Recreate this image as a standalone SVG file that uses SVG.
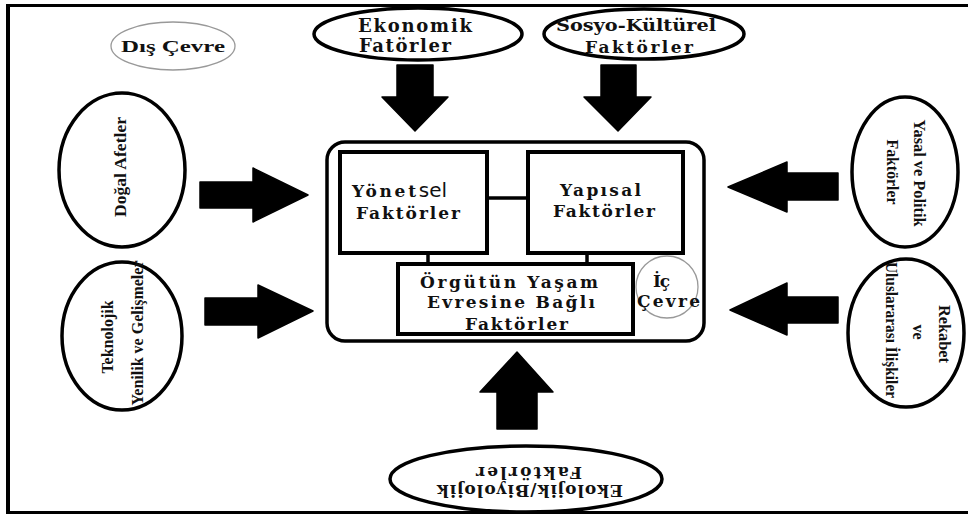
<svg xmlns="http://www.w3.org/2000/svg" width="968" height="514" viewBox="0 0 968 514">
<style>
.bg{fill:#fff}
.frame{stroke:#000;fill:none}
.el{fill:#fff;stroke:#000;stroke-width:3.5}
.thin{fill:#fff;stroke:#999;stroke-width:1.3}
.box{fill:#fff;stroke:#000;stroke-width:4}
.outer{fill:#fff;stroke:#000;stroke-width:3.5}
.ar{fill:#000;stroke:#000;stroke-width:1.5;stroke-linejoin:round}
.ln{stroke:#000;stroke-width:3.5}
text{font-family:"Liberation Serif","Times New Roman",serif;font-weight:bold;fill:#111}
.t17{font-size:17px}
.t16{font-size:16px}
.wide{font-family:"DejaVu Serif","Liberation Serif",serif;font-size:17px}
.big{font-size:18px}
.m{text-anchor:middle}
</style>
<rect class="bg" x="0" y="0" width="968" height="514"/>
<g id="frame">
<line class="frame" x1="6" y1="5.5" x2="968" y2="5.5" stroke-width="3"/>
<line class="frame" x1="8" y1="4" x2="8" y2="514" stroke-width="4"/>
<line class="frame" x1="6" y1="512.5" x2="968" y2="512.5" stroke-width="3"/>
</g>
<g id="connectors">
<polygon class="ar" points="397,65 433,65 433,97 448,97 415,131 382,97 397,97"/>
<polygon class="ar" points="601,65 636,65 636,97 651,97 618,131 584,97 601,97"/>
<polygon class="ar" points="200,182 253,182 253,168 308,195 253,222 253,208 200,208"/>
<polygon class="ar" points="205,298 258,298 258,285 313,311 258,338 258,325 205,325"/>
<polygon class="ar" points="838,173 787,173 787,162 728,187 787,212 787,200 838,200"/>
<polygon class="ar" points="838,297 787,297 787,283 730,310 787,335 787,323 838,323"/>
<polygon class="ar" points="497,429 537,429 537,392 553,392 517,352 480,392 497,392"/>
</g>
<g id="dis-cevre">
<ellipse class="thin" cx="173" cy="46" rx="62" ry="24"/>
<text class="t17 m" x="173" y="52" textLength="104" lengthAdjust="spacingAndGlyphs">Dış Çevre</text>
</g>
<g id="ekonomik">
<ellipse class="el" cx="418" cy="34" rx="104" ry="26"/>
<text class="wide big m" x="415" y="32" textLength="114" lengthAdjust="spacing">Ekonomik</text>
<text class="wide big m" x="405" y="52" textLength="92" lengthAdjust="spacing">Fatörler</text>
</g>
<g id="sosyo">
<ellipse class="el" cx="644" cy="34" rx="100" ry="25"/>
<text class="wide m" x="636" y="31" textLength="160" lengthAdjust="spacingAndGlyphs" style="font-size:16px">Sosyo-Kültürel</text>
<text class="wide m" x="639" y="53" textLength="108" lengthAdjust="spacing">Faktörler</text>
</g>
<g id="dogal">
<ellipse class="el" cx="122" cy="170" rx="63" ry="77"/>
<text class="t17 m" transform="translate(126,167) rotate(-90)" x="0" y="0" textLength="100" lengthAdjust="spacingAndGlyphs">Doğal Afetler</text>
</g>
<g id="teknolojik">
<ellipse class="el" cx="122" cy="336" rx="60" ry="74"/>
<text class="t16 m" transform="translate(113,337) rotate(-90)" x="0" y="0">Teknolojik</text>
<text class="t16 m" transform="translate(143,333) rotate(-90)" x="0" y="0" textLength="145" lengthAdjust="spacingAndGlyphs">Yenilik ve Gelişmeler</text>
</g>
<g id="yasal">
<ellipse class="el" cx="905" cy="172" rx="53" ry="75"/>
<text class="t16 m" transform="translate(914,173) rotate(90)" x="0" y="0" textLength="107" lengthAdjust="spacingAndGlyphs">Yasal ve Politik</text>
<text class="t16 m" transform="translate(887,172) rotate(90)" x="0" y="0" textLength="65" lengthAdjust="spacingAndGlyphs">Faktörler</text>
</g>
<g id="rekabet">
<ellipse class="el" cx="906" cy="333" rx="58" ry="74"/>
<text class="t16 m" transform="translate(939,334) rotate(90)" x="0" y="0" textLength="58" lengthAdjust="spacingAndGlyphs">Rekabet</text>
<text class="t16 m" transform="translate(913,332) rotate(90)" x="0" y="0">ve</text>
<text class="t16 m" transform="translate(886,330) rotate(90)" x="0" y="0" textLength="136" lengthAdjust="spacingAndGlyphs">Uluslararası İlişkiler</text>
</g>
<g id="ekolojik">
<ellipse class="el" cx="526" cy="479" rx="136" ry="33"/>
<text class="wide m" transform="translate(529,467) rotate(180)" x="0" y="0" textLength="106" lengthAdjust="spacing">Faktörler</text>
<text class="wide m" transform="translate(530,485) rotate(180)" x="0" y="0" textLength="186" lengthAdjust="spacing">Ekolojik/Biyolojik</text>
</g>
<g id="ic-cevre-box">
<rect class="outer" x="327" y="142" width="377" height="199" rx="18" ry="18"/>
</g>
<g id="inner-connectors">
<line class="ln" x1="487" y1="198" x2="528" y2="198"/>
<line class="ln" x1="428" y1="253" x2="428" y2="264"/>
<line class="ln" x1="587" y1="253" x2="587" y2="264"/>
</g>
<g id="yonetsel">
<rect class="box" x="340" y="152" width="147" height="101"/>
<text class="wide" x="352" y="197"><tspan textLength="64" lengthAdjust="spacing">Yönet</tspan><tspan style="font-family:'DejaVu Sans','Liberation Sans',sans-serif;font-weight:normal;font-size:20px">sel</tspan></text>
<text class="wide" x="356" y="219" textLength="104" lengthAdjust="spacing">Faktörler</text>
</g>
<g id="yapisal">
<rect class="box" x="528" y="152" width="155" height="101"/>
<text class="wide" x="560" y="196" textLength="81" lengthAdjust="spacing">Yapısal</text>
<text class="wide" x="553" y="217" textLength="102" lengthAdjust="spacing">Faktörler</text>
</g>
<g id="orgutun">
<rect class="box" x="398" y="264" width="235" height="70"/>
<text class="wide" x="420" y="288" textLength="178" lengthAdjust="spacing">Örgütün Yaşam</text>
<text class="wide" x="427" y="308" textLength="168" lengthAdjust="spacing">Evresine Bağlı</text>
<text class="wide" x="465" y="330" textLength="103" lengthAdjust="spacing">Faktörler</text>
</g>
<g id="ic-cevre">
<circle class="thin" cx="667" cy="287" r="31" style="fill:none"/>
<text class="wide" x="653" y="287" textLength="17" lengthAdjust="spacing">İç</text>
<text class="wide" x="637" y="307" textLength="63" lengthAdjust="spacing">Çevre</text>
</g>
</svg>
